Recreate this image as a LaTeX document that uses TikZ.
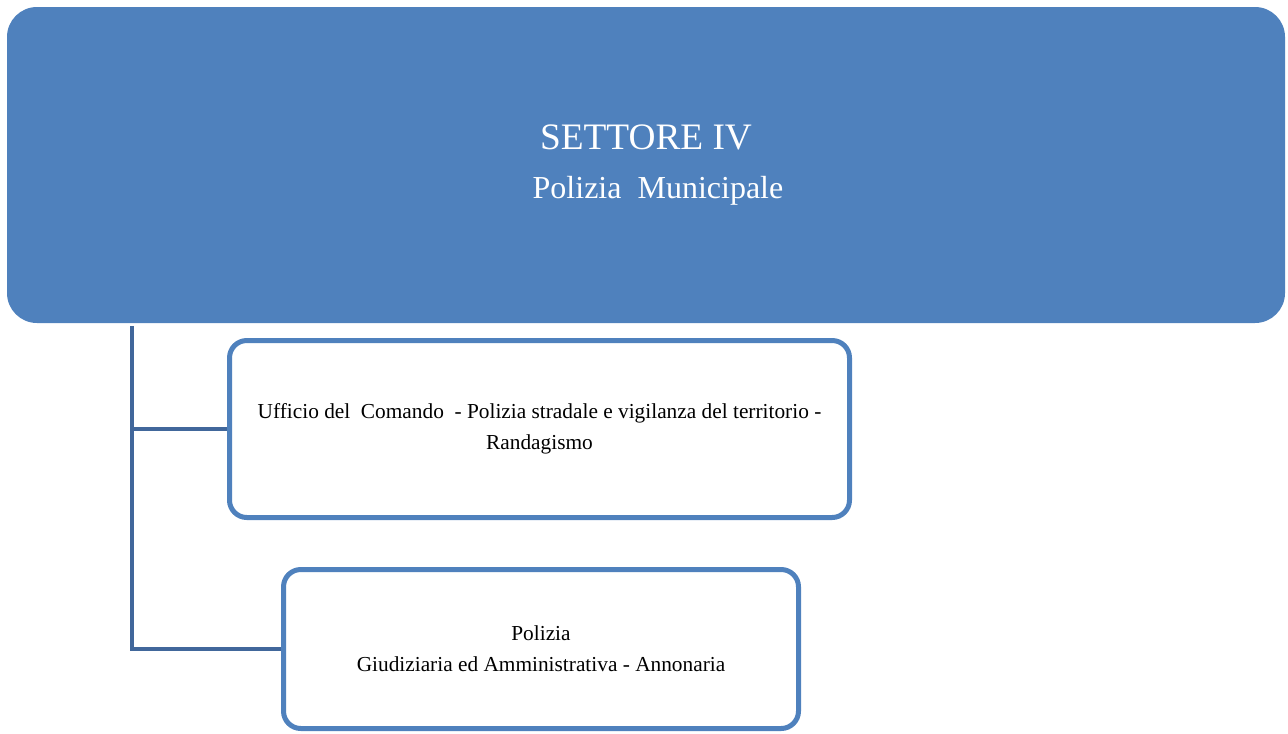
\documentclass[tikz,border=0pt]{standalone}
\usepackage{fontspec}
\setmainfont{Liberation Serif}
\definecolor{accent}{HTML}{4F81BD}
\definecolor{linkc}{HTML}{41679B}
\begin{document}
\begin{tikzpicture}[x=0.75pt,y=-0.75pt,
  topbox/.style={fill=accent, draw=none, rounded corners=22.5pt, text=white, align=center,
    minimum width=958.5pt, minimum height=237pt, inner sep=0pt,
    font=\fontsize{24}{36.75}\selectfont},
  subbox/.style={draw=accent, line width=3.75pt, fill=white, rounded corners=13pt, align=center,
    inner sep=0pt, font=\fontsize{16}{23}\selectfont},
  link/.style={draw=linkc, line width=3pt}]
\useasboundingbox (0,0) rectangle (1288,733);
\node[topbox] (top) at (646,165) {{\fontsize{28}{36.75}\selectfont SETTORE IV}\\\hspace*{18pt}Polizia\ \ Municipale};
\node[subbox, minimum width=465pt, minimum height=132.75pt] (b1) at (539.5,429)
  {Ufficio del\ \ Comando\ \ - Polizia stradale e vigilanza del territorio -\\Randagismo};
\node[subbox, minimum width=386.25pt, minimum height=119.25pt] (b2) at (541,649)
  {Polizia\\Giudiziaria ed Amministrativa - Annonaria};
\coordinate (trunk) at (132,326);
\draw[link] (trunk) |- (b2.west);
\draw[link] (trunk |- b1.west) -- (b1.west);
\end{tikzpicture}
\end{document}
